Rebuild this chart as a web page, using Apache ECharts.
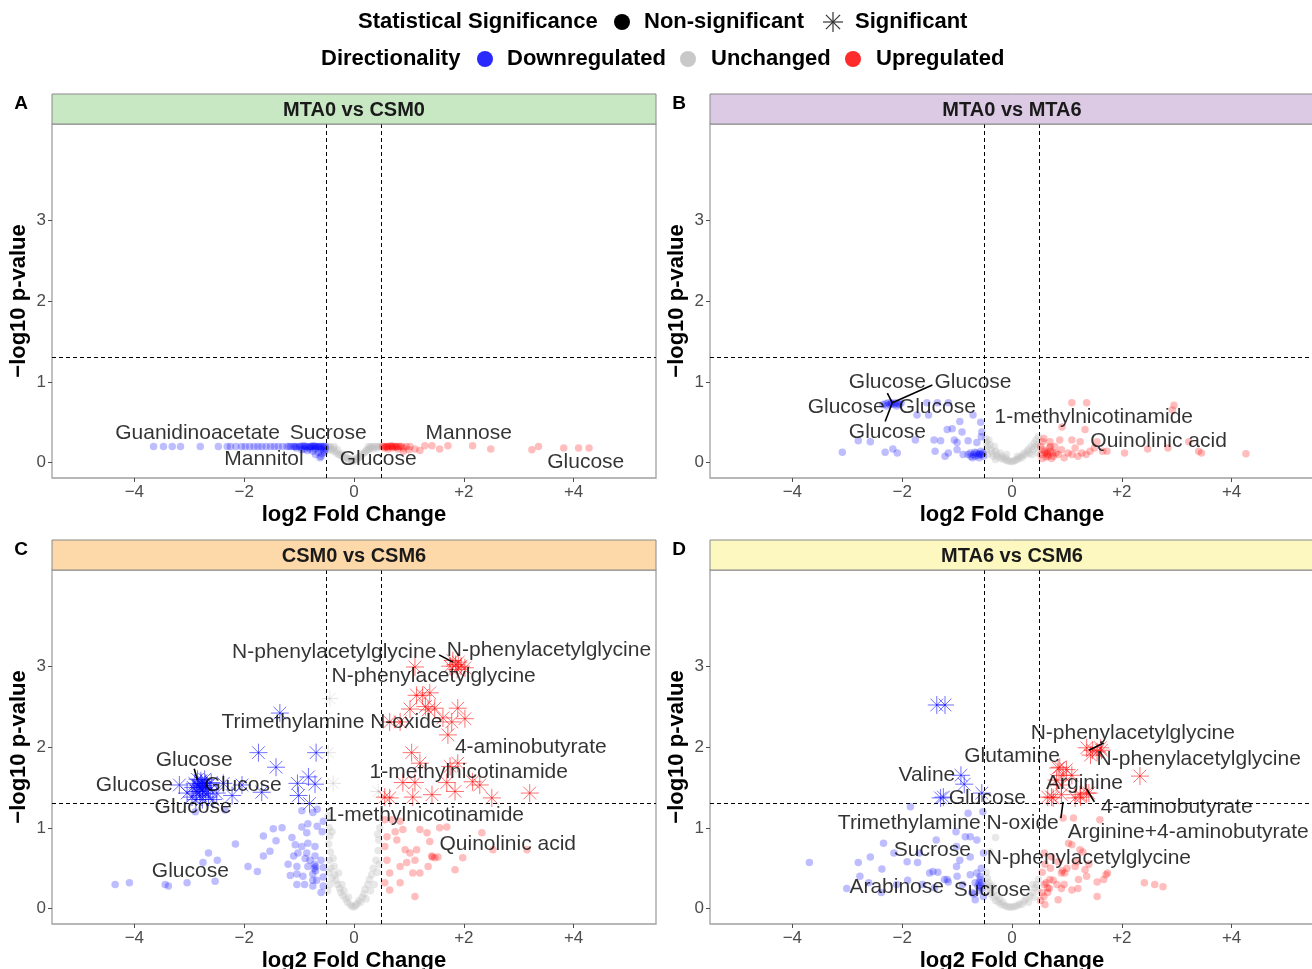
<!DOCTYPE html>
<html>
<head>
<meta charset="utf-8">
<script src="https://cdn.jsdelivr.net/npm/echarts@6/dist/echarts.min.js"></script>
<style>
html,body{margin:0;padding:0;background:#fff;}
#chart{width:1312px;height:969px;}
</style>
</head>
<body>
<div id="chart"></div>
<script>
// ---------------- DATA ----------------
const X_TICKS = [-4, -2, 0, 2, 4];
const Y_TICKS = [0, 1, 2, 3];
const FC_CUT = 0.5;
const P_CUT = 1.30103;

const panelTitles = ['MTA0 vs CSM0', 'MTA0 vs MTA6', 'CSM0 vs CSM6', 'MTA6 vs CSM6'];
const panelLetters = ['A', 'B', 'C', 'D'];

// Panel A
const A_down = [[-3.65,0.2],[-3.47,0.2],[-3.31,0.2],[-3.16,0.2],[-2.8,0.2],[-2.47,0.2],[-2.31,0.2],[-2.25,0.2],[-2.15,0.2],[-2.05,0.2],[-1.98,0.2],[-1.9,0.2],[-1.82,0.2],[-1.75,0.2],[-1.68,0.2],[-1.6,0.2],[-1.52,0.2],[-1.45,0.2],[-1.38,0.2],[-1.3,0.2],[-1.22,0.2],[-1.15,0.2],[-1.1,0.2],[-1.05,0.2],[-1.0,0.2],[-0.95,0.2],[-0.9,0.2],[-0.85,0.2],[-0.8,0.2],[-0.76,0.2],[-0.72,0.2],[-0.68,0.2],[-0.64,0.2],[-0.6,0.2],[-0.56,0.2],[-0.52,0.2],[-0.9,0.17],[-0.8,0.17],[-0.7,0.17],[-0.6,0.17],[-0.55,0.15],[-0.75,0.14],[-0.65,0.13],[-0.58,0.11],[-0.7,0.1],[-0.6,0.08],[-1.05,0.18],[-0.95,0.16],[-0.85,0.15],[-0.52,0.17],[-0.55,0.2],[-0.62,0.2],[-0.7,0.2],[-0.78,0.2],[-0.88,0.2],[-0.98,0.2],[-1.08,0.2],[-1.18,0.2],[-0.66,0.19],[-0.74,0.21],[-0.82,0.19],[-0.92,0.21],[-0.54,0.13],[-0.62,0.06]];
const A_unch = [[-0.48,0.2],[-0.45,0.19],[-0.42,0.17],[-0.4,0.15],[-0.38,0.18],[-0.35,0.14],[-0.32,0.12],[-0.3,0.16],[-0.28,0.1],[-0.25,0.09],[-0.22,0.11],[-0.2,0.07],[-0.17,0.06],[-0.15,0.08],[-0.12,0.05],[-0.1,0.04],[-0.07,0.05],[-0.05,0.03],[-0.02,0.03],[0,0.02],[0.03,0.04],[0.05,0.05],[0.08,0.06],[0.1,0.07],[0.12,0.08],[0.15,0.1],[0.18,0.12],[0.2,0.13],[0.22,0.15],[0.25,0.16],[0.28,0.17],[0.3,0.18],[0.33,0.19],[0.36,0.2],[0.4,0.2],[0.44,0.2],[0.47,0.2],[-0.44,0.2],[0.35,0.17],[0.26,0.2],[0.3,0.2],[0.42,0.18],[-0.46,0.16],[-0.36,0.2]];
const A_up = [[0.52,0.2],[0.55,0.2],[0.58,0.2],[0.6,0.2],[0.63,0.2],[0.66,0.2],[0.69,0.2],[0.72,0.2],[0.75,0.2],[0.78,0.2],[0.81,0.2],[0.84,0.2],[0.87,0.2],[0.55,0.18],[0.62,0.17],[0.7,0.18],[0.8,0.17],[0.9,0.18],[0.95,0.2],[1.02,0.2],[1.11,0.17],[1.2,0.15],[1.29,0.21],[1.42,0.21],[1.56,0.17],[1.71,0.21],[2.16,0.21],[2.49,0.17],[3.24,0.16],[3.36,0.2],[3.82,0.18],[4.09,0.18],[4.28,0.18],[0.9,0.14],[1.0,0.16],[0.6,0.19],[0.68,0.21],[0.76,0.19]];
const A_labels = [['Guanidinoacetate',-2.85,0.36],['Sucrose',-0.47,0.36],['Mannitol',-1.64,0.04],['Glucose',0.44,0.04],['Mannose',2.09,0.36],['Glucose',4.22,0.0]];
const A_leaders = [];

// Panel B
const B_down = [[-2.35,0.72],[-2.3,0.73],[-2.25,0.74],[-2.22,0.72],[-2.2,0.74],[-2.18,0.73],[-2.15,0.72],[-2.12,0.74],[-2.08,0.73],[-2.05,0.72],[-2.02,0.74],[-2.28,0.7],[-2.1,0.7],[-1.73,0.59],[-1.52,0.59],[-1.55,0.74],[-1.36,0.74],[-1.16,0.74],[-0.71,0.59],[-0.95,0.51],[-0.57,0.5],[-1.09,0.42],[-1.18,0.41],[-0.91,0.38],[-0.55,0.38],[-1.42,0.28],[-1.3,0.27],[-1.05,0.28],[-1.0,0.25],[-0.8,0.27],[-0.64,0.25],[-1.76,0.28],[-2.8,0.27],[-2.58,0.26],[-3.09,0.13],[-2.31,0.13],[-2.17,0.17],[-2.09,0.12],[-1.4,0.14],[-1.22,0.08],[-1.16,0.12],[-1.0,0.16],[-0.89,0.1],[-0.76,0.12],[-0.67,0.08],[-0.58,0.1],[-0.8,0.1],[-0.75,0.08],[-0.7,0.1],[-0.65,0.12],[-0.62,0.09],[-0.6,0.11],[-0.55,0.1],[-0.52,0.08],[-0.72,0.06],[-0.6,0.06],[-0.56,0.32],[-0.68,0.13],[-0.57,0.14],[-0.53,0.12]];
const B_unch = [[-0.48,0.3],[-0.46,0.25],[-0.45,0.2],[-0.47,0.15],[-0.44,0.1],[-0.42,0.28],[-0.4,0.22],[-0.38,0.16],[-0.36,0.12],[-0.34,0.08],[-0.32,0.2],[-0.3,0.14],[-0.28,0.1],[-0.25,0.07],[-0.22,0.12],[-0.2,0.05],[-0.18,0.08],[-0.15,0.04],[-0.12,0.06],[-0.1,0.03],[-0.07,0.02],[-0.04,0.02],[0,0.01],[0.03,0.02],[0.06,0.03],[0.09,0.04],[0.12,0.05],[0.15,0.07],[0.18,0.06],[0.2,0.09],[0.22,0.12],[0.25,0.1],[0.28,0.14],[0.3,0.17],[0.32,0.12],[0.35,0.2],[0.38,0.16],[0.4,0.24],[0.42,0.19],[0.44,0.28],[0.46,0.22],[0.48,0.32],[0.47,0.12],[0.36,0.1],[-0.3,0.04],[0.1,0.08],[-0.1,0.1]];
const B_up = [[1.09,0.74],[1.36,0.74],[2.95,0.71],[2.92,0.65],[0.91,0.44],[1.33,0.41],[0.56,0.26],[0.69,0.26],[0.87,0.28],[1.09,0.28],[1.24,0.26],[1.55,0.26],[0.56,0.16],[0.6,0.12],[0.65,0.1],[0.7,0.14],[0.75,0.08],[0.8,0.12],[0.84,0.1],[0.62,0.07],[0.72,0.05],[0.9,0.16],[1.02,0.12],[1.09,0.1],[1.27,0.12],[1.42,0.14],[1.65,0.14],[1.73,0.14],[2.05,0.12],[2.47,0.17],[2.84,0.18],[3.22,0.26],[3.4,0.14],[3.45,0.12],[4.26,0.11],[0.52,0.2],[0.55,0.05],[0.68,0.18],[0.78,0.2],[1.15,0.18],[1.5,0.18],[0.58,0.3],[0.66,0.08],[0.74,0.12],[0.95,0.06],[1.2,0.08],[1.35,0.1],[0.53,0.1],[0.7,0.2],[0.6,0.14],[0.64,0.12]];
const B_labels = [['Glucose',-2.27,0.99],['Glucose',-0.71,0.99],['Glucose',-3.02,0.68],['Glucose',-1.36,0.68],['Glucose',-2.27,0.38],['1-methylnicotinamide',1.49,0.56],['Quinolinic acid',2.67,0.26]];
const B_leaders = [[-2.27,0.86,-2.18,0.74],[-1.45,0.96,-2.18,0.74],[-2.31,0.51,-2.18,0.74]];

// Panel C
const C_down = [[-0.95,1.21],[-0.75,1.19],[-0.67,1.23],[-0.56,1.08],[-0.84,1.05],[-0.95,1.01],[-0.67,1.02],[-1.47,0.99],[-1.31,1.0],[-0.86,0.94],[-1.42,0.84],[-1.65,0.9],[-2.16,0.8],[-1.13,0.88],[-1.07,0.79],[-0.95,0.77],[-0.84,0.81],[-0.71,0.77],[-1.53,0.71],[-1.65,0.65],[-1.02,0.69],[-0.86,0.69],[-0.71,0.65],[-0.89,0.62],[-2.49,0.6],[-2.75,0.57],[-2.65,0.69],[-1.93,0.52],[-1.76,0.46],[-1.04,0.52],[-0.84,0.52],[-1.04,0.43],[-0.75,0.43],[-0.56,0.51],[-0.93,0.4],[-0.56,0.39],[-4.35,0.3],[-4.09,0.32],[-3.44,0.3],[-3.38,0.28],[-3.04,0.32],[-2.53,0.34],[-1.04,0.3],[-0.75,0.28],[-0.56,0.28],[-1.16,0.41],[-2.89,1.2],[-2.35,1.22],[-0.6,0.6],[-0.7,0.47],[-0.68,0.35],[-0.6,0.2],[-0.75,0.35],[-0.9,0.3],[-1.2,0.55],[-0.58,0.95],[-1.1,0.65],[-0.8,0.6],[-0.72,0.55],[-0.72,0.5],[-0.7,0.52]];
const C_unch = [[-0.47,1.15],[-0.45,1.0],[-0.44,0.9],[-0.46,0.8],[-0.43,0.7],[-0.45,0.6],[-0.42,0.5],[-0.46,0.45],[-0.4,0.38],[-0.44,0.3],[-0.38,0.62],[-0.36,0.52],[-0.35,0.42],[-0.33,0.35],[-0.3,0.3],[-0.28,0.44],[-0.26,0.25],[-0.24,0.2],[-0.22,0.3],[-0.2,0.16],[-0.18,0.22],[-0.15,0.12],[-0.12,0.08],[-0.1,0.14],[-0.07,0.05],[-0.04,0.03],[0,0.02],[0.03,0.04],[0.06,0.06],[0.09,0.1],[0.12,0.08],[0.15,0.14],[0.18,0.18],[0.2,0.24],[0.22,0.12],[0.25,0.3],[0.28,0.36],[0.3,0.22],[0.32,0.42],[0.35,0.5],[0.37,0.3],[0.4,0.6],[0.42,0.45],[0.44,0.72],[0.45,0.85],[0.47,1.0],[0.43,0.92],[0.46,0.55],[-0.4,0.95],[-0.48,0.22]];
const C_up = [[0.69,1.1],[0.84,1.08],[0.75,0.95],[0.6,0.89],[0.56,0.77],[0.78,0.85],[0.93,0.73],[1.02,0.69],[1.14,0.73],[1.33,0.94],[1.38,0.83],[1.42,0.64],[1.47,0.63],[1.56,1.0],[1.69,1.01],[1.98,0.63],[2.33,0.94],[2.53,0.73],[3.15,0.73],[1.84,0.48],[1.07,0.44],[0.84,0.52],[0.65,0.44],[0.84,0.32],[1.11,0.15],[0.56,0.32],[0.65,0.23],[0.6,0.6],[0.96,0.57],[1.2,0.44],[1.35,0.52],[0.56,1.1],[0.89,0.98],[1.2,0.98],[1.53,0.64],[1.11,0.6],[1.42,0.65]];
const C_downSig = [[-1.35,2.42],[-1.74,1.93],[-0.69,1.93],[-1.42,1.75],[-1.03,1.55],[-0.83,1.63],[-0.71,1.54],[-1.01,1.4],[-0.81,1.3],[-1.68,1.44],[-2.22,1.4],[-2.04,1.53],[-3.18,1.53],[-3.04,1.43],[-2.5,1.43],[-2.38,1.55],[-2.93,1.5],[-2.9,1.55],[-2.87,1.45],[-2.85,1.6],[-2.82,1.5],[-2.8,1.4],[-2.78,1.55],[-2.75,1.48],[-2.72,1.6],[-2.7,1.42],[-2.68,1.52],[-2.65,1.38],[-2.62,1.47],[-2.6,1.56],[-2.57,1.35],[-2.95,1.38],[-2.88,1.35],[-2.76,1.35],[-2.84,1.53],[-2.79,1.58],[-2.73,1.5],[-2.81,1.45],[-2.76,1.52],[-2.7,1.55]];
const C_unchSig = [[-0.44,2.6],[-0.47,1.93],[-0.38,1.55],[0.44,1.45]];
const C_upSig = [[1.11,2.99],[1.8,3.07],[1.85,3.02],[1.9,3.05],[1.95,3.0],[2.02,2.98],[1.75,3.0],[1.88,2.96],[1.14,2.64],[1.25,2.64],[1.38,2.67],[1.02,2.47],[1.35,2.46],[1.47,2.48],[1.89,2.48],[2.02,2.35],[0.65,2.31],[0.84,2.31],[1.62,2.36],[1.78,2.31],[1.71,2.15],[1.05,1.93],[1.2,1.8],[1.75,1.76],[1.89,1.8],[1.69,1.56],[2.16,1.57],[2.29,1.53],[0.89,1.56],[1.11,1.56],[1.84,1.45],[0.56,1.38],[0.65,1.37],[1.07,1.38],[1.42,1.41],[2.51,1.37],[3.2,1.43],[1.3,2.5]];
const C_labels = [['N-phenylacetylglycine',-0.36,3.17],['N-phenylacetylglycine',3.55,3.2],['N-phenylacetylglycine',1.45,2.88],['Trimethylamine N-oxide',-0.4,2.31],['4-aminobutyrate',3.22,2.0],['1-methylnicotinamide',2.09,1.69],['Glucose',-2.91,1.84],['Glucose',-4.0,1.53],['Glucose',-2.02,1.53],['Glucose',-2.93,1.25],['1-methylnicotinamide',1.29,1.15],['Quinolinic acid',2.8,0.8],['Glucose',-2.98,0.46]];
const C_leaders = [[1.55,3.14,1.8,3.05],[-2.91,1.73,-2.85,1.59]];

// Panel D
const D_down = [[-1.85,1.26],[-0.8,1.18],[-0.53,1.2],[-1.02,0.95],[-0.85,0.89],[-0.76,0.89],[-0.64,0.85],[-0.52,0.69],[-1.01,0.77],[-1.38,0.85],[-3.69,0.57],[-2.8,0.57],[-2.58,0.64],[-2.34,0.81],[-2.15,0.69],[-1.91,0.58],[-1.72,0.57],[-2.37,0.49],[-2.77,0.4],[-2.61,0.32],[-3.01,0.25],[-1.5,0.44],[-1.23,0.36],[-1.16,0.33],[-0.76,0.42],[-0.64,0.44],[-0.58,0.36],[-0.55,0.32],[-0.67,0.32],[-0.76,0.64],[-1.63,0.3],[-1.41,0.26],[-0.67,0.11],[-0.73,0.2],[-1.01,0.52],[-1.69,0.69],[-2.38,0.2],[-1.18,0.36],[-1.44,0.46],[-0.55,0.25],[-0.6,0.22],[-0.52,0.15],[-0.58,0.4],[-0.62,0.28],[-0.7,0.18],[-0.9,0.3],[-1.0,0.4],[-1.35,0.45],[-0.56,0.5],[-0.95,0.6],[-2.1,0.3],[-1.9,0.35],[-0.6,0.32],[-0.57,0.28]];
const D_unch = [[-0.47,0.45],[-0.45,0.38],[-0.46,0.3],[-0.44,0.22],[-0.42,0.32],[-0.4,0.26],[-0.38,0.18],[-0.36,0.28],[-0.34,0.14],[-0.32,0.22],[-0.3,0.1],[-0.27,0.16],[-0.25,0.08],[-0.22,0.12],[-0.2,0.05],[-0.17,0.08],[-0.14,0.04],[-0.1,0.03],[-0.06,0.02],[-0.02,0.02],[0.02,0.02],[0.06,0.03],[0.1,0.04],[0.14,0.06],[0.18,0.05],[0.22,0.09],[0.26,0.12],[0.3,0.08],[0.33,0.16],[0.36,0.2],[0.4,0.14],[0.42,0.26],[0.45,0.3],[0.47,0.22],[0.48,0.36],[0.38,0.3],[-0.4,0.7],[-0.3,0.88]];
const D_up = [[0.93,1.12],[1.12,1.12],[1.6,1.1],[1.03,0.81],[1.09,0.79],[1.24,0.73],[1.29,0.7],[0.59,0.69],[0.72,0.64],[0.84,0.58],[1.15,0.52],[1.33,0.48],[0.9,0.44],[0.96,0.44],[0.69,0.36],[0.59,0.3],[0.65,0.26],[1.21,0.36],[1.36,0.4],[1.55,0.33],[1.67,0.36],[1.74,0.44],[1.71,0.42],[2.41,0.32],[2.6,0.3],[2.75,0.27],[1.55,0.15],[0.65,0.2],[0.84,0.11],[1.09,0.23],[1.18,0.58],[0.6,0.55],[0.55,0.45],[0.75,0.35],[0.92,0.47],[1.0,0.5],[0.52,0.1],[0.6,0.05],[0.68,0.25],[0.82,0.3],[0.9,0.25],[1.2,0.25],[1.4,0.55],[0.55,0.2],[0.58,0.15],[0.62,0.32],[0.7,0.5],[0.95,0.3]];
const D_downSig = [[-1.37,2.52],[-1.22,2.52],[-0.93,1.65],[-0.87,1.54],[-1.25,1.38],[-1.3,1.37],[-0.55,1.43]];
const D_unchSig = [];
const D_upSig = [[1.36,1.99],[1.55,1.94],[1.61,1.99],[1.43,1.9],[1.47,1.96],[1.63,1.96],[2.33,1.64],[0.84,1.74],[0.93,1.65],[0.99,1.72],[1.09,1.65],[0.81,1.59],[0.87,1.75],[0.65,1.38],[0.75,1.37],[0.9,1.41],[1.15,1.37],[1.24,1.41],[1.36,1.43],[0.9,1.53],[0.72,1.38],[1.25,1.38],[1.4,1.43]];
const D_labels = [['N-phenylacetylglycine',2.2,2.17],['N-phenylacetylglycine',3.4,1.85],['Glutamine',0.0,1.88],['Valine',-1.55,1.65],['Arginine',1.32,1.55],['Glucose',-0.45,1.37],['4-aminobutyrate',3.0,1.26],['Trimethylamine N-oxide',-1.16,1.06],['Arginine+4-aminobutyrate',3.21,0.94],['Sucrose',-1.45,0.72],['N-phenylacetylglycine',1.4,0.62],['Arabinose',-2.1,0.26],['Sucrose',-0.36,0.23]];
const D_leaders = [[1.67,2.05,1.4,1.96],[0.93,1.32,0.89,1.12],[1.36,1.48,1.5,1.32]];

// ---------------- LAYOUT / STYLE ----------------
const FONT = '"Liberation Sans", Arial, Helvetica, sans-serif';
const stripColors = ['#c8e8c4', '#dccae4', '#fdd8a8', '#fcf8c0'];
const gridPos = [
  {left: 52, top: 124}, {left: 710, top: 124},
  {left: 52, top: 570}, {left: 710, top: 570}
];
const PW = 604, PH = 354, STRIP_H = 30;
const ASTERISK = 'path://M10,0L10,20M0,10L20,10M2.93,2.93L17.07,17.07M2.93,17.07L17.07,2.93';

const panelData = [
  {down: A_down, unch: A_unch, up: A_up, downSig: [], unchSig: [], upSig: [], labels: A_labels, leaders: A_leaders},
  {down: B_down, unch: B_unch, up: B_up, downSig: [], unchSig: [], upSig: [], labels: B_labels, leaders: B_leaders},
  {down: C_down, unch: C_unch, up: C_up, downSig: C_downSig, unchSig: C_unchSig, upSig: C_upSig, labels: C_labels, leaders: C_leaders},
  {down: D_down, unch: D_unch, up: D_up, downSig: D_downSig, unchSig: D_unchSig, upSig: D_upSig, labels: D_labels, leaders: D_leaders}
];

const fmtX = v => v === 0 ? '0' : (v > 0 ? '+' + v : '\u2212' + Math.abs(v));

const grids = [], xAxes = [], yAxes = [], series = [], graphics = [];

panelData.forEach((p, i) => {
  const g = gridPos[i];
  grids.push({
    left: g.left, top: g.top, width: PW, height: PH,
    show: true, borderColor: '#a0a0a0', borderWidth: 1.3, backgroundColor: '#fff',
    containLabel: false, outerBoundsMode: 'none'
  });
  xAxes.push({
    gridIndex: i, type: 'value', min: -5.5, max: 5.5,
    axisLine: {show: false, onZero: false}, splitLine: {show: false},
    axisTick: {show: true, customValues: X_TICKS, length: 4, lineStyle: {color: '#4d4d4d'}},
    axisLabel: {customValues: X_TICKS, formatter: fmtX, color: '#4d4d4d', fontSize: 17, fontFamily: FONT, margin: 6},
    name: 'log2 Fold Change', nameLocation: 'middle', nameGap: 26,
    nameTextStyle: {fontWeight: 'bold', fontSize: 22, color: '#000', fontFamily: FONT}
  });
  yAxes.push({
    gridIndex: i, type: 'value', min: -0.19, max: 4.19,
    axisLine: {show: false, onZero: false}, splitLine: {show: false},
    axisTick: {show: true, customValues: Y_TICKS, length: 4, lineStyle: {color: '#4d4d4d'}},
    axisLabel: {customValues: Y_TICKS, color: '#4d4d4d', fontSize: 17, fontFamily: FONT, margin: 6},
    name: '\u2212log10 p-value', nameLocation: 'middle', nameGap: 22,
    nameTextStyle: {fontWeight: 'bold', fontSize: 22, color: '#000', fontFamily: FONT}
  });
  const base = {type: 'scatter', xAxisIndex: i, yAxisIndex: i, silent: true, animation: false};
  series.push(Object.assign({}, base, {
    data: p.unch, symbol: 'circle', symbolSize: 7.5, itemStyle: {color: 'rgba(190,190,190,0.45)'}, z: 2,
    markLine: {
      silent: true, symbol: ['none', 'none'], label: {show: false}, animation: false,
      lineStyle: {color: '#000', width: 1, type: [4, 3]},
      data: [{xAxis: -FC_CUT}, {xAxis: FC_CUT}, {yAxis: P_CUT}]
    }
  }));
  series.push(Object.assign({}, base, {data: p.down, symbol: 'circle', symbolSize: 7.5, itemStyle: {color: 'rgba(0,0,255,0.32)'}, z: 3}));
  series.push(Object.assign({}, base, {data: p.up, symbol: 'circle', symbolSize: 7.5, itemStyle: {color: 'rgba(255,0,0,0.32)'}, z: 3}));
  series.push(Object.assign({}, base, {data: p.unchSig, symbol: ASTERISK, symbolSize: 16, itemStyle: {color: 'rgba(0,0,0,0)', borderColor: 'rgba(190,190,190,0.5)', borderWidth: 1}, z: 4}));
  series.push(Object.assign({}, base, {data: p.downSig, symbol: ASTERISK, symbolSize: 18, itemStyle: {color: 'rgba(0,0,0,0)', borderColor: 'rgba(0,0,255,0.7)', borderWidth: 1}, z: 4}));
  series.push(Object.assign({}, base, {data: p.upSig, symbol: ASTERISK, symbolSize: 18, itemStyle: {color: 'rgba(0,0,0,0)', borderColor: 'rgba(255,0,0,0.7)', borderWidth: 1}, z: 4}));
  series.push({
    type: 'lines', coordinateSystem: 'cartesian2d', xAxisIndex: i, yAxisIndex: i, silent: true, animation: false,
    lineStyle: {color: '#000', width: 1.6, opacity: 1}, z: 5,
    data: p.leaders.map(l => ({coords: [[l[0], l[1]], [l[2], l[3]]]}))
  });
  series.push(Object.assign({}, base, {
    data: p.labels.map(l => ({name: l[0], value: [l[1], l[2]]})),
    symbol: 'circle', symbolSize: 1, itemStyle: {color: 'rgba(0,0,0,0)'}, z: 6,
    label: {show: true, position: 'inside', formatter: '{b}', color: '#000', fontSize: 21, fontFamily: FONT}
  }));

  // strip
  graphics.push({type: 'rect', shape: {x: g.left, y: g.top - STRIP_H, width: PW, height: STRIP_H},
    style: {fill: stripColors[i], stroke: '#8a8a8a', lineWidth: 1}, z: 10});
  graphics.push({type: 'text', x: g.left + PW / 2, y: g.top - STRIP_H / 2 + 1,
    style: {text: panelTitles[i], font: 'bold 20px ' + FONT, fill: '#1a1a1a', align: 'center', verticalAlign: 'middle', textAlign: 'center', textVerticalAlign: 'middle'}, z: 11});
  // panel letter
  graphics.push({type: 'text', x: g.left - 31, y: g.top - 20,
    style: {text: panelLetters[i], font: 'bold 19px ' + FONT, fill: '#000', align: 'center', verticalAlign: 'middle', textAlign: 'center', textVerticalAlign: 'middle'}, z: 11});
});

// legend (drawn as graphics)
function legText(txt, x, y) {
  return {type: 'text', x: x, y: y, style: {text: txt, font: 'bold 22px ' + FONT, fill: '#000', verticalAlign: 'middle', textVerticalAlign: 'middle'}, z: 11};
}
function legDot(cx, cy, col) {
  return {type: 'circle', shape: {cx: cx, cy: cy, r: 8}, style: {fill: col}, z: 11};
}
function legStar(cx, cy, r, col) {
  const d = r * 0.7071;
  return {type: 'group', children: [
    {type: 'line', shape: {x1: cx, y1: cy - r, x2: cx, y2: cy + r}, style: {stroke: col, lineWidth: 1.2}},
    {type: 'line', shape: {x1: cx - r, y1: cy, x2: cx + r, y2: cy}, style: {stroke: col, lineWidth: 1.2}},
    {type: 'line', shape: {x1: cx - d, y1: cy - d, x2: cx + d, y2: cy + d}, style: {stroke: col, lineWidth: 1.2}},
    {type: 'line', shape: {x1: cx - d, y1: cy + d, x2: cx + d, y2: cy - d}, style: {stroke: col, lineWidth: 1.2}}
  ]};
}
graphics.push(legText('Statistical Significance', 358, 22));
graphics.push(legDot(622, 22, '#000'));
graphics.push(legText('Non-significant', 644, 22));
graphics.push(legStar(833, 22, 10, '#333'));
graphics.push(legText('Significant', 855, 22));
graphics.push(legText('Directionality', 321, 59));
graphics.push(legDot(485, 59, '#2a2aff'));
graphics.push(legText('Downregulated', 507, 59));
graphics.push(legDot(688, 59, '#c8c8c8'));
graphics.push(legText('Unchanged', 711, 59));
graphics.push(legDot(853, 59, '#ff2a2a'));
graphics.push(legText('Upregulated', 876, 59));

const chart = echarts.init(document.getElementById('chart'), null, {renderer: 'canvas'});
chart.setOption({
  backgroundColor: '#fff',
  animation: false,
  grid: grids,
  xAxis: xAxes,
  yAxis: yAxes,
  series: series,
  graphic: {elements: graphics}
});
</script>
</body>
</html>
